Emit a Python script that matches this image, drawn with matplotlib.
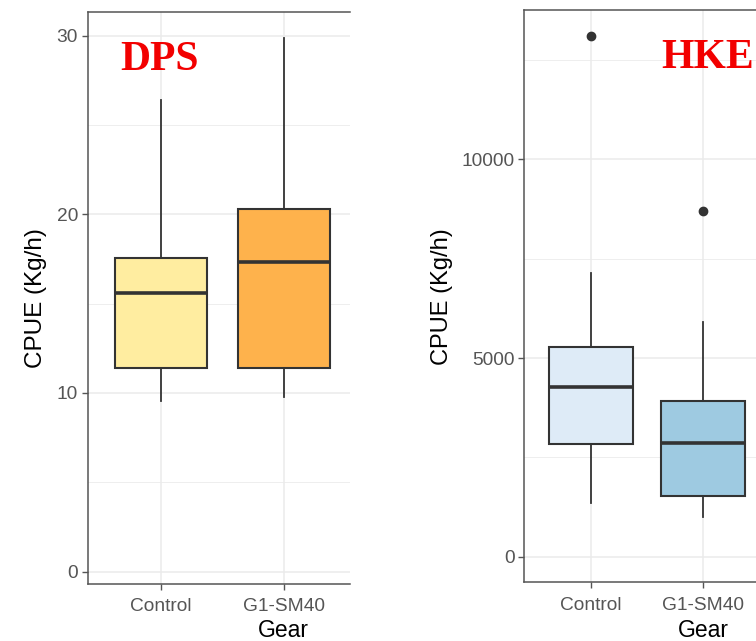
import matplotlib
matplotlib.use("Agg")
import matplotlib.pyplot as plt
from matplotlib.ticker import MultipleLocator

# ---------------- data ----------------
gears = ["Control", "G1-SM40"]

dps_whislo = [9.55, 9.76]
dps_q1 = [11.38, 11.38]
dps_med = [15.61, 17.31]
dps_q3 = [17.57, 20.28]
dps_whishi = [26.4, 29.88]
dps_fliers = [[], []]
dps_colors = ["#FFEDA0", "#FEB24C"]

hke_whislo = [1359, 1007]
hke_q1 = [2829, 1535]
hke_med = [4263, 2861]
hke_q3 = [5284, 3910]
hke_whishi = [7147, 5914]
hke_fliers = [[13110], [8699]]
hke_colors = ["#DEEBF7", "#9ECAE1"]

dps_yticks = [0, 10, 20, 30]
hke_yticks = [0, 5000, 10000]

plt.rcParams["font.family"] = ["Liberation Sans", "DejaVu Sans"]

W, H = 756, 641
fig = plt.figure(figsize=(W / 100, H / 100), dpi=100)

EDGE = "#333333"
GRID = "#EBEBEB"
SPINE = "#555555"
TICKC = "#555555"


def make_stats(whislo, q1, med, q3, whishi, fliers):
    out = []
    for i in range(len(med)):
        out.append(dict(whislo=whislo[i], q1=q1[i], med=med[i], q3=q3[i],
                        whishi=whishi[i], fliers=fliers[i], label=gears[i]))
    return out


def panel(rect_px, stats, colors, yticks, minor_step, xlim, ylim,
          title, title_xy, ylab_x, ylab_size):
    x0, y0, x1, y1 = rect_px
    ax = fig.add_axes([x0 / W, 1 - y1 / H, (x1 - x0) / W, (y1 - y0) / H])
    ax.set_axisbelow(True)
    bp = ax.bxp(stats, positions=[1, 2], widths=0.75, patch_artist=True,
                showcaps=False,
                boxprops=dict(edgecolor=EDGE, linewidth=1.5),
                medianprops=dict(color=EDGE, linewidth=2.6),
                whiskerprops=dict(color=EDGE, linewidth=1.3),
                flierprops=dict(marker="o", markerfacecolor=EDGE,
                                markeredgecolor=EDGE, markersize=6))
    for patch, c in zip(bp["boxes"], colors):
        patch.set_facecolor(c)
    ax.set_xlim(*xlim)
    ax.set_ylim(*ylim)
    ax.set_yticks(yticks)
    ax.yaxis.set_minor_locator(MultipleLocator(minor_step))
    ax.set_xticks([1, 2])
    ax.set_xticklabels(gears)
    ax.grid(True, which="major", color=GRID, linewidth=1.1)
    ax.grid(True, which="minor", axis="y", color=GRID, linewidth=0.6)
    ax.tick_params(which="minor", length=0)
    ax.tick_params(which="major", length=4.3, width=1.0, color=SPINE,
                   labelcolor=TICKC, labelsize=13.8, pad=2.5)
    ax.tick_params(axis="x", pad=6)
    for s in ["left", "bottom", "top"]:
        ax.spines[s].set_color(SPINE)
        ax.spines[s].set_linewidth(1.1)
    ax.spines["right"].set_visible(False)

    ax.set_ylabel("CPUE (Kg/h)", fontsize=ylab_size, color="black")
    ax.yaxis.label.set_verticalalignment("center")
    ax.yaxis.set_label_coords(ylab_x, 0.5)

    ax.set_xlabel("Gear", fontsize=16.5, color="black")
    ax.xaxis.label.set_verticalalignment("baseline")
    # centred under the second gear
    xa = (2 - xlim[0]) / (xlim[1] - xlim[0])
    ax.xaxis.set_label_coords(xa, -(637 - y1) / (y1 - y0))

    ax.text(title_xy[0], title_xy[1], title, transform=ax.transAxes,
            fontsize=30, fontweight="bold", color="#F20000",
            family=["Liberation Serif", "DejaVu Serif"],
            ha="left", va="baseline")
    return ax


panel((87.5, 11.7, 350, 584),
      make_stats(dps_whislo, dps_q1, dps_med, dps_q3, dps_whishi, dps_fliers),
      dps_colors, dps_yticks, 5, (0.401, 2.540), (-0.69, 31.34),
      "DPS", (0.124, 0.898), -0.196, 17.5)

panel((524, 10, 756, 582.3),
      make_stats(hke_whislo, hke_q1, hke_med, hke_q3, hke_whishi, hke_fliers),
      hke_colors, hke_yticks, 2500, (0.4034, 2.469), (-644, 13757),
      "HKE", (0.5905, 0.898), -0.353, 17)

fig.savefig("out.png", dpi=100)
